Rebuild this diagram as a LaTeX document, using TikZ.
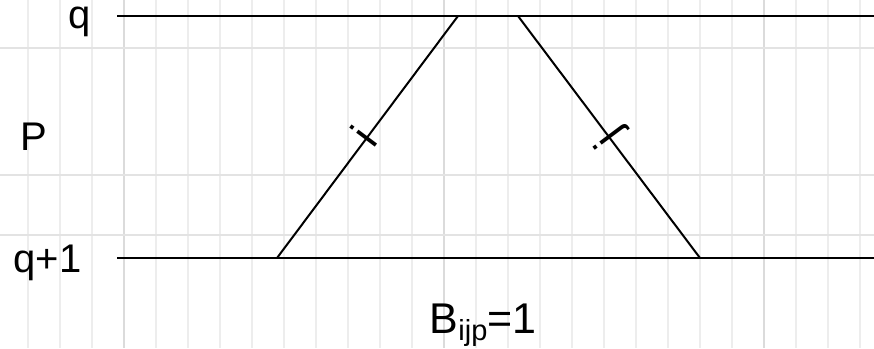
\documentclass[tikz,border=0pt]{standalone}
\usepackage{fontspec}
\setmainfont{Liberation Sans}
\begin{document}
\begin{tikzpicture}[x=1pt,y=-1pt,
  mainline/.style={line width=2pt, black},
  gridline/.style={line width=2pt, black!7},
  griddark/.style={line width=2pt, black!14},
  lbl/.style={inner sep=0pt, font=\fontsize{40}{40}\selectfont},
  idx/.style={inner sep=0pt, anchor=base, font=\fontsize{44}{44}\selectfont}]
\useasboundingbox (0,0) rectangle (874,348);
% faint background grid
\foreach \k in {0,...,26} {
  \draw[gridline] (28+32*\k,0) -- (28+32*\k,348);
}
\foreach \k in {3,13,23} {
  \draw[griddark] (28+32*\k,0) -- (28+32*\k,348);
}
\foreach \yy in {48,175,235} {
  \draw[gridline, black!11] (0,\yy) -- (874,\yy);
}
% main geometry
\coordinate (TL) at (117,16);
\coordinate (TR) at (874,16);
\coordinate (BL) at (117,258);
\coordinate (BR) at (874,258);
\coordinate (A) at (277,258);
\coordinate (B) at (458,16);
\coordinate (C) at (518,16);
\coordinate (D) at (700,258);
\draw[mainline] (TL) -- (TR);
\draw[mainline] (BL) -- (BR);
\draw[mainline] (A) -- (B);
\draw[mainline] (C) -- (D);
% labels
\node[lbl, anchor=base west] (q) at (68.5,28.5) {q};
\node[lbl, anchor=base west] (P) at (20,150) {P};
\node[lbl, anchor=base west] (q1) at (13.5,272) {q+1};
\node[inner sep=0pt, anchor=base west, font=\fontsize{43}{43}\selectfont] (Bijp) at (429.6,333)
  {B\raisebox{-7pt}{\fontsize{29}{29}\selectfont ijp}=1};
% index marks on the slanted lines
\node[idx, rotate=53.2] (i) at (365.4,137.5) {\raisebox{-0.3em}{i}};
\node[idx, rotate=126.9] (j) at (609.4,137.6) {\raisebox{-0.3em}{j}};
\end{tikzpicture}
\end{document}
